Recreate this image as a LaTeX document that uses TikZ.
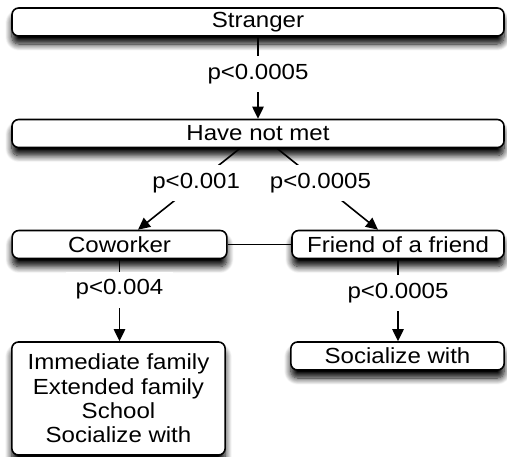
\documentclass[tikz,border=0pt]{standalone}
\usepackage{fontspec}
\setmainfont{Liberation Sans}[FakeStretch=1.1]
\usetikzlibrary{arrows.meta,shadows.blur}
\tikzset{
  box/.style={draw, line width=1.2pt, rounded corners=5pt, fill=white, inner sep=0pt,
    minimum height=21pt, align=center,
    blur shadow={shadow xshift=0pt, shadow yshift=-6pt, shadow blur radius=5pt, shadow opacity=100, shadow blur steps=10}},
  pval/.style={fill=white, inner xsep=7pt, inner ysep=6pt},
  link/.style={line width=1.2pt, -{Triangle[length=9pt,width=8.5pt]}},
}
\begin{document}
\begin{tikzpicture}[x=0.75pt,y=-0.75pt,font=\fontsize{16.4pt}{18.3pt}\selectfont]
  \useasboundingbox (0,0) rectangle (507,457);
  \node[box, minimum width=369pt] (stranger) at (258,22) {Stranger};
  \node[box, minimum width=369pt] (havenot) at (258,133.5) {Have not met};
  \node[box, minimum width=161pt] (coworker) at (119.5,244.5) {Coworker};
  \node[box, minimum width=159pt] (friend) at (398,244.5) {Friend of a friend};
  \node[box, minimum width=160pt, minimum height=84.75pt] (family) at (118.5,398.5)
    {Immediate family\\Extended family\\School\\Socialize with};
  \node[box, minimum width=160pt] (social) at (397.5,356) {Socialize with};

  \draw[link] (stranger) -- node[pval, pos=0.45] {p<0.0005} (havenot);
  \draw[link] ([xshift=-13.5pt]havenot.south) -- node[pval, pos=0.43] {p<0.001} ([xshift=13.9pt]coworker.north);
  \draw[link] ([xshift=14.25pt]havenot.south) -- node[pval, pos=0.43] {p<0.0005} ([xshift=-15pt]friend.north);
  \draw[line width=1.2pt] (coworker) -- (friend);
  \draw[link] (coworker.south) -- node[pval, pos=0.37] {p<0.004} (coworker.south |- family.north);
  \draw[link] (friend.south) -- node[pval, pos=0.41] {p<0.0005} (friend.south |- social.north);
\end{tikzpicture}
\end{document}
